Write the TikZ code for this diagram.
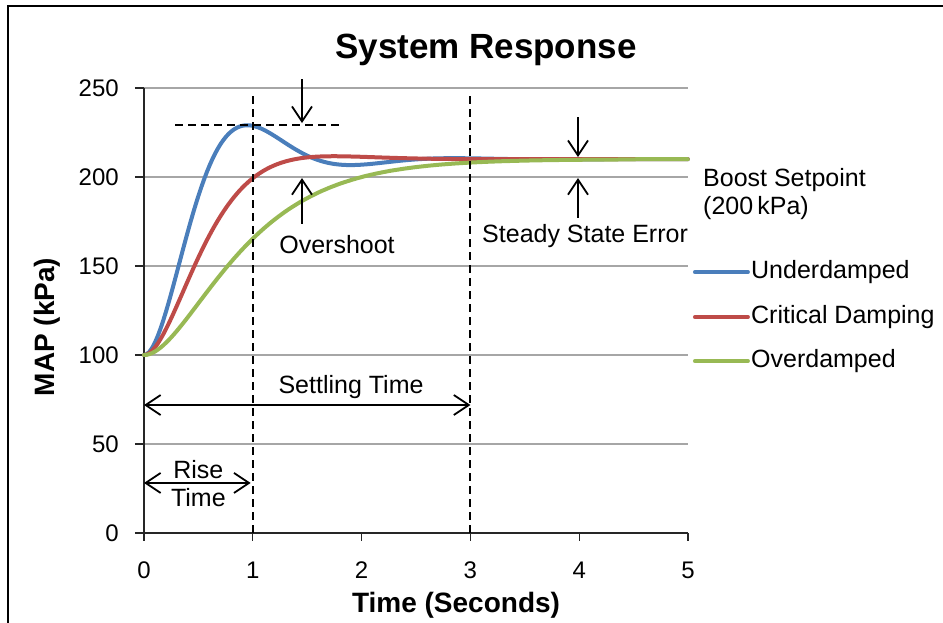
\documentclass[tikz,border=0pt]{standalone}
\usepackage{fontspec}
\setmainfont{Liberation Sans}
\usetikzlibrary{arrows.meta}
\definecolor{underblue}{HTML}{4A7EBB}
\definecolor{critred}{HTML}{BE4B48}
\definecolor{overgreen}{HTML}{98B954}
\tikzset{
  gridline/.style={draw=black!35, line width=1.3pt},
  axisline/.style={draw=black!85, line width=1.3pt},
  guide/.style={dash pattern=on 8pt off 5pt, line width=2.2pt},
  marker/.style={-{Straight Barb[length=15pt,width=20pt]}, line width=1.8pt},
  span/.style={{Straight Barb[length=15pt,width=20pt]}-{Straight Barb[length=15pt,width=20pt]}, line width=1.8pt},
  curve/.style={line width=4pt, line cap=round},
  lbl/.style={font=\fontsize{25}{28}\selectfont, inner sep=0pt},
  ticklbl/.style={font=\fontsize{24}{26}\selectfont, inner sep=0pt},
  axtitle/.style={font=\fontsize{28}{30}\selectfont\bfseries, inner sep=0pt},
}

\begin{document}
\begin{tikzpicture}[x=108.8pt, y=1.78pt]
        \useasboundingbox (-1.3235,-50.56) rectangle (7.3438,299.44);

        % frame
        \coordinate (F0) at (-1.25,-52);
        \coordinate (F1) at (-1.25,296.1);
        \coordinate (F2) at (7.4,296.1);
        \draw[line width=2pt] (F0) -- (F1) -- (F2);

        % grid and axes
        \foreach \v in {50,100,...,250}
            \draw[gridline] (0,\v) -- (5,\v);
        \coordinate (O) at (0,0);
        \coordinate (Xend) at (5,0);
        \coordinate (Yend) at (0,250);
        \draw[axisline] (O) -- (Yend);
        \draw[axisline] (O) -- (Xend);
        \foreach \v in {0,50,...,250} {
            \draw[axisline] (-0.083,\v) -- (0,\v);
            \node[ticklbl, anchor=east] (y\v) at (-0.23,\v) {\v};
        }
        \foreach \t in {0,...,5} {
            \draw[axisline] (\t,0) -- (\t,-4.5);
            \node[ticklbl] (x\t) at (\t,-20.8) {\t};
        }

        \node[font=\fontsize{35}{38}\selectfont\bfseries, inner sep=0pt] (title) at (3.143,271.3) {System Response};
        \node[axtitle] (xlab) at (2.868,-40.4) {Time (Seconds)};
        \node[axtitle, rotate=90] (ylab) at (-0.892,115.7) {MAP (kPa)};

        % responses
        \draw[curve, underblue] plot[domain=0:5, samples=200]
            (\x, {100+110*(1-exp(-1.846*\x)*(cos(deg(3.31*\x))+0.558*sin(deg(3.31*\x))))});
        \draw[curve, critred] plot[domain=0:5, samples=200]
            (\x, {100+110*(1-exp(-2.4*\x)*(cos(deg(1.8*\x))+1.333*sin(deg(1.8*\x))))});
        \draw[curve, overgreen] plot[domain=0:5, samples=200]
            (\x, {100+110*(1-(1+2*\x)*exp(-2*\x))});

        % dashed guides
        \coordinate (P0) at (0.285,229.2);
        \coordinate (P1) at (1.82,229.2);
        \coordinate (R0) at (1,0);
        \coordinate (R1) at (1,247.2);
        \coordinate (S0) at (3,0);
        \coordinate (S1) at (3,247.2);
        \draw[guide] (P0) -- (P1);
        \draw[guide] (R0) -- (R1);
        \draw[guide] (S0) -- (S1);

        % overshoot
        \coordinate (OsTop) at (1.452,255);
        \coordinate (OsHi) at (1.452,230.3);
        \coordinate (OsBot) at (1.452,173.6);
        \coordinate (OsLo) at (1.452,199.4);
        \draw[marker] (OsTop) -- (OsHi);
        \draw[marker] (OsBot) -- (OsLo);
        \node[lbl] (overshoot) at (1.774,161.8) {Overshoot};

        % steady state error
        \coordinate (SsTop) at (3.989,233.7);
        \coordinate (SsHi) at (3.989,211.2);
        \coordinate (SsBot) at (3.989,177);
        \coordinate (SsLo) at (3.989,199.4);
        \draw[marker] (SsTop) -- (SsHi);
        \draw[marker] (SsBot) -- (SsLo);
        \node[lbl, anchor=west] (sserr) at (3.107,166.9) {Steady State Error};

        \node[lbl, anchor=west, align=left] (boost) at (5.138,190.7) {Boost Setpoint\\(200\,kPa)};

        % settling and rise time
        \coordinate (T0) at (0,71.9);
        \coordinate (T3) at (3,71.9);
        \draw[span] (T0) -- (T3);
        \node[lbl] (settle) at (1.903,82) {Settling Time};
        \coordinate (Q0) at (0,28.1);
        \coordinate (Q1) at (0.98,28.1);
        \draw[span] (Q0) -- (Q1);
        \node[lbl, align=center] (rise) at (0.5,27.5) {Rise\\Time};

        % legend
        \coordinate (LU0) at (5.064,146.6);
        \coordinate (LU1) at (5.551,146.6);
        \coordinate (LC0) at (5.064,121.3);
        \coordinate (LC1) at (5.551,121.3);
        \coordinate (LO0) at (5.064,96.6);
        \coordinate (LO1) at (5.551,96.6);
        \draw[curve, underblue] (LU0) -- (LU1);
        \draw[curve, critred] (LC0) -- (LC1);
        \draw[curve, overgreen] (LO0) -- (LO1);
        \node[lbl, anchor=west] (legunder) at (5.579,146.6) {Underdamped};
        \node[lbl, anchor=west] (legcrit) at (5.579,121.3) {Critical Damping};
        \node[lbl, anchor=west] (legover) at (5.579,96.6) {Overdamped};
    \end{tikzpicture}
\end{document}
